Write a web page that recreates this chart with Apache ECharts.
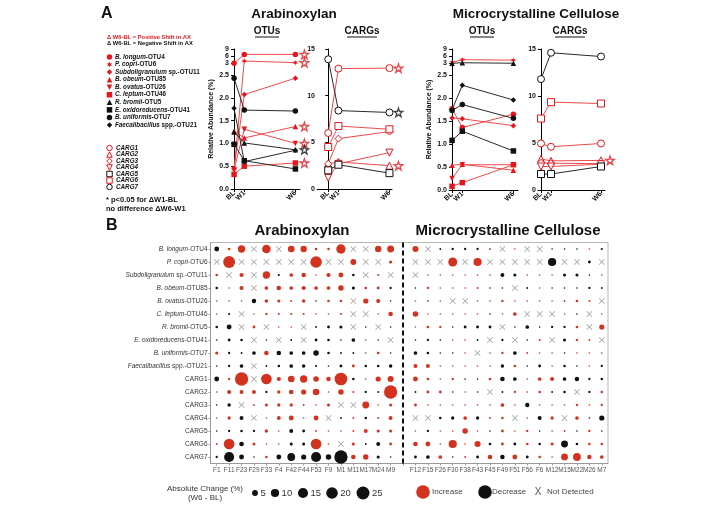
<!DOCTYPE html>
<html><head><meta charset="utf-8">
<script src="https://cdn.jsdelivr.net/npm/echarts@6/dist/echarts.min.js"></script>
<style>html,body{margin:0;padding:0;background:#fff}#c{width:720px;height:505px}</style>
</head><body><div id="c"></div>
<script>
// ---------------- DATA ----------------
const timepoints = ['BL', 'W1', 'W6'];
const weeks = [0, 1, 6];
const otuItalic = ['B. longum', 'P. copri', 'Subdoligranulum', 'B. obeum', 'B. ovatus', 'C. leptum', 'R. bromii', 'E. oxidoreducens', 'B. uniformis', 'Faecalibacillus'];
const otuSuffix = ['-OTU4', '-OTU6', ' sp.-OTU11', '-OTU85', '-OTU26', '-OTU46', '-OTU5', '-OTU41', '-OTU7', ' spp.-OTU21'];
const otuShift = ['pos', 'pos', 'pos', 'pos', 'pos', 'pos', 'neg', 'neg', 'neg', 'neg'];
const cargNames = ['CARG1', 'CARG2', 'CARG3', 'CARG4', 'CARG5', 'CARG6', 'CARG7'];
const cargShift = ['pos', 'pos', 'pos', 'pos', 'neg', 'pos', 'neg'];
const otuTickValues = [0, 0.5, 1, 1.5, 2, 2.5, 3, 6, 9];
const cargTickValues = [0, 5, 10, 15];

// Arabinoxylan OTUs (relative abundance %)
const axOtuBL = [3.0, 0.43, 0.45, 1.27, 0.43, 0.32, 1.25, 0.98, 2.43, 1.77];
const axOtuW1 = [6.7, 3.9, 2.07, 1.12, 1.31, 0.50, 1.01, 0.62, 1.73, 0.60];
const axOtuW6 = [6.7, 3.2, 2.43, 1.37, 1.00, 0.57, 0.86, 0.44, 1.71, 0.85];
const axOtuSig = [1, 1, 0, 1, 1, 1, 1, 0, 0, 0];
// Arabinoxylan CARGs
const axCargBL = [6.0, 2.7, 2.7, 1.2, 2.0, 4.5, 13.9];
const axCargW1 = [12.9, 2.9, 5.4, 2.7, 2.6, 6.75, 8.4];
const axCargW6 = [12.95, 2.5, 6.15, 3.9, 1.7, 6.4, 8.2];
const axCargSig = [1, 1, 0, 0, 0, 0, 1];
// Microcrystalline cellulose OTUs
const mccOtuBL = [1.77, 3.3, 1.57, 0.54, 0.25, 0.08, 3.0, 1.08, 1.73, 1.75];
const mccOtuW1 = [1.36, 4.5, 1.55, 0.56, 0.55, 0.16, 3.2, 1.28, 1.86, 2.28];
const mccOtuW6 = [1.65, 4.3, 1.40, 0.43, 0.55, 0.55, 3.0, 0.85, 1.56, 1.96];
const mccOtuSig = [0, 0, 0, 0, 0, 0, 0, 0, 0, 0];
// Microcrystalline cellulose CARGs
const mccCargBL = [4.95, 3.3, 2.9, 2.5, 1.7, 7.6, 11.8];
const mccCargW1 = [4.6, 3.1, 2.85, 2.5, 1.7, 9.35, 14.6];
const mccCargW6 = [4.95, 3.15, 2.8, 2.75, 2.5, 9.2, 14.2];
const mccCargSig = [0, 1, 0, 0, 0, 0, 0];

// Panel B: absolute change W6-BL (positive = increase, negative = decrease, null = not detected)
const axSamples = ['F1', 'F11', 'F23', 'F29', 'F33', 'F4', 'F42', 'F44', 'F53', 'F9', 'M1', 'M11', 'M17', 'M24', 'M9'];
const mccSamples = ['F12', 'F15', 'F26', 'F30', 'F38', 'F43', 'F45', 'F49', 'F51', 'F56', 'F6', 'M12', 'M15', 'M22', 'M26', 'M7'];
const rowItalic = ['B. longum', 'P. copri', 'Subdoligranulum', 'B. obeum', 'B. ovatus', 'C. leptum', 'R. bromii', 'E. oxidoreducens', 'B. uniformis', 'Faecalibacillus', '', '', '', '', '', '', ''];
const rowSuffix = ['-OTU4', '-OTU6', ' sp.-OTU11', '-OTU85', '-OTU26', '-OTU46', '-OTU5', '-OTU41', '-OTU7', ' spp.-OTU21', 'CARG1', 'CARG2', 'CARG3', 'CARG4', 'CARG5', 'CARG6', 'CARG7'];

const chgLongum = [-3.5, 1, 8, null, 11, null, 6.5, 6, 1, 1, 13, null, null, 6, 7,
  5.5, null, -0.5, -0.8, -0.8, -0.8, 0.5, null, 0.2, null, null, -0.2, -0.3, -0.2, 0.1, -0.7];
const chgCopri = [null, 21, null, null, null, null, null, null, 20, null, null, 5, null, null, 1.5,
  null, null, null, 12, null, 10, null, null, null, null, null, -10, null, null, -1.2, null];
const chgSubdol = [1, null, 2.5, null, 8, -0.7, 2, 3, 0.2, 2.5, 3.5, -1, null, 0.6, null,
  null, 0.4, 0.1, 0.2, 0.2, 0.4, 0.2, -2.3, -1.4, 0.4, 0.2, 0.2, -1.4, -1.4, -0.2, 0.2];
const chgObeum = [-1, 0.1, 2.5, null, 2, 3, 2, 2.5, 2, 2, 4.5, -1.5, 1, 1.2, -0.8,
  -0.4, 0.8, 0.1, 0.1, 0.05, 0.5, -0.1, -0.1, null, -0.5, 0.1, -0.1, -0.4, -0.1, -0.8, -0.5];
const chgOvatus = [0.4, 0.1, 0.4, -3, 1.8, 1.5, 0.5, 1.8, -0.3, 1, 1, null, 4, 2.5, -0.3,
  0.4, -0.4, 0.1, null, null, 0.1, 0.1, 0.9, 0.2, 0.1, 0.1, 0.1, 0.5, 1, 0.5, null];
const chgLeptum = [0.1, -0.7, null, 0.1, 0.8, 0.6, 0.6, 0.6, 0.4, 0.4, 0.6, null, null, 0.1, 3,
  4.5, 0.1, 0.1, 0.1, 0.1, 0.1, -0.4, 0.1, 2, null, null, null, 0.1, -0.1, null, 0.1];
const chgBromii = [-1, -3.5, null, 1.2, null, 0.1, 0.1, null, -0.5, -1.2, -1.5, null, -0.4, null, -0.4,
  0.1, 1, 0.8, -0.4, -1.2, -1.2, -1.2, null, -0.1, -2, -0.4, -0.8, -0.8, 1, null, 4];
const chgOxido = [-0.4, -1.2, -1, null, -0.2, null, -0.5, null, -1.2, -1, -0.2, -2, 0.4, -0.2, null,
  -0.1, -0.8, -0.4, 0.4, 0.4, -0.5, null, -0.8, null, -0.1, 0.5, null, -1.4, 0.8, 0.5, null];
const chgUniformis = [1.5, -0.8, -0.5, -2, 3, -3, -2, -2, -4.5, -1, -0.5, -0.5, 0.4, 1, -0.4,
  -2, -1, -0.2, -0.1, 0.4, null, 0.4, 0.8, -2, 0.5, 0.1, 0.2, -0.1, 0.4, 0.2, 0.4];
const chgFaecali = [-0.1, -0.8, -2, null, -0.5, -1, -2, -1.8, -0.7, -0.1, -1.2, 1.2, -1, -1, -1.8,
  2.3, 2.3, 0.1, 0.2, 0.2, 0.05, 0.4, -1.7, 1, -0.4, -1.2, 0.4, -1, -0.2, 0.4, -0.8];
const chgCarg1 = [-3.5, 0.8, 26, null, 17, 2.5, 6.5, 8, 4.5, 3, 24, -1, 0.4, 4, 5.5,
  3.5, 1, 0.4, 0.8, -0.4, -0.4, 1, -3.2, -2, 0.1, 2, 2.3, -2, -3, -0.8, -1];
const chgCarg2 = [0.4, 2.5, 2.3, 2.3, -0.8, 1.7, 3.2, 4, 6.5, 0.1, 4.5, 0.5, -0.8, -0.5, 26,
  -0.5, 1.2, 1.2, -0.4, 0.1, -0.4, null, -0.5, 0.8, 0.1, 1, -0.5, -1, null, -0.8, 1];
const chgCarg3 = [-0.1, -1.8, null, 0.5, 1.4, 1.6, 1.6, 0.5, 0.4, 1.4, null, null, 7, 0.4, 1.4,
  1.2, 0.1, 0.4, 0.4, 0.4, 0.3, 0.3, 2, 0.1, -2.8, 0.1, 0.4, 0.4, 0.8, 0.4, 0.8];
const chgCarg4 = [0.1, 1.6, -2.3, null, 0.2, 2.3, 3.5, 0.1, 3.5, null, -0.5, 0.5, -1, 0.5, 2.3,
  null, null, -1, -1.6, 2, -1.6, 0.5, 1, null, 0.1, -2.3, 1.6, null, 2, -0.4, -4];
const chgCarg5 = [-0.1, -0.8, -1, -0.8, 1.6, 0.1, -2.3, -1.2, 0.5, 0.4, 0.4, 0.5, 2.3, 1.4, 1.4,
  0.1, -0.8, 0.1, 0.4, 4.5, 0.2, -0.4, 1.2, 0.1, 0.8, -0.4, 0.4, 0.5, -0.4, 0.8, -0.4];
const chgCarg6 = [0.5, 17, -3.2, 1.4, 0.1, 0.1, -1.4, -1.4, 17, 0.2, null, 1.4, -0.5, -2.3, 1.2,
  3.2, 3.5, 0.4, 10, 0.4, 5.5, -1, 1.2, -1.2, 1, -1, 1.4, -7, -1, 1, 1];
const chgCarg7 = [-0.8, -15, -3.5, -0.3, 1, -3.5, -9, -4, -15, -4.5, -26, 3.2, 4.5, -1.5, -0.4,
  -1.2, -2, 2, -0.1, 0.5, -1.2, 3, -3, 3.5, -1.2, 1, 0.1, 7, 9, 3, 2];
const sizeLegendValues = [5, 10, 15, 20, 25];

// ---------------- STYLE / HELPERS ----------------
const FONT = '"Liberation Sans", Arial, Helvetica, sans-serif';
const RED = '#e8161c', RED_LINE = '#ef4a4c', BLK = '#111', BLK_LINE = '#2a2a2a';
const BUB_RED = '#d3321f', BUB_BLK = '#111', ND_GREY = '#8a8a8a';
const SYM = {
  circle: 'circle', rect: 'rect', triangle: 'triangle', diamond: 'diamond',
  triDown: 'path://M0,0 L10,0 L5,9 Z',
  star6: 'path://M5,0 L6,3.3 L9.3,2.5 L7,5 L9.3,7.5 L6,6.7 L5,10 L4,6.7 L0.7,7.5 L3,5 L0.7,2.5 L4,3.3 Z'
};
const STAR = 'path://M50,0 L61.8,35.5 L99,35.5 L69,57.6 L80.3,93 L50,71.2 L19.7,93 L31,57.6 L1,35.5 L38.2,35.5 Z';
const XMARK = 'path://M0,1 L1,0 L5,4 L9,0 L10,1 L6,5 L10,9 L9,10 L5,6 L1,10 L0,9 L4,5 Z';
const otuKinds = ['circle', 'star6', 'diamond', 'triangle', 'triDown', 'rect', 'triangle', 'rect', 'circle', 'diamond'];
const cargKinds = ['circle', 'triangle', 'diamond', 'triDown', 'rect', 'rect', 'circle'];

function brk(v) { return v <= 2.5 ? v : 2.76 + (v - 3) * 0.31 / 6; }
function unbrk(d) { return d <= 2.5 + 1e-9 ? d : 3 + (d - 2.76) * 6 / 0.31; }
function ident(v) { return v; }
function sz(v) { return Math.max(1.6, 2.6 * Math.sqrt(v)); }

function lineSeries(k, bl, w1, w6, names, shifts, kinds, open, tf, sig) {
  const out = [];
  names.forEach((nm, i) => {
    const vals = [bl[i], w1[i], w6[i]];
    const red = shifts[i] === 'pos';
    const mc = red ? RED : BLK;
    out.push({
      type: 'line', xAxisIndex: k, yAxisIndex: k, name: nm,
      data: weeks.map((w, t) => [w, tf(vals[t])]),
      symbol: SYM[kinds[i]], symbolSize: open ? 7 : 5.5,
      lineStyle: { color: red ? RED_LINE : BLK_LINE, width: 1 },
      itemStyle: open ? { color: '#fff', borderColor: mc, borderWidth: 1 } : { color: mc, borderWidth: 0 },
      z: red ? 3 : 4, animation: false, silent: true
    });
    if (sig[i]) out.push({
      type: 'scatter', xAxisIndex: k, yAxisIndex: k,
      data: [[weeks[2], tf(vals[2])]],
      symbol: STAR, symbolSize: 8.5, symbolOffset: [9, 0],
      itemStyle: { color: '#fff', borderColor: mc, borderWidth: 1.3 },
      z: 5, animation: false, silent: true
    });
  });
  return out;
}

const otuTicks = otuTickValues.map(brk);
function xAxisA(k, min, max) {
  return {
    type: 'value', gridIndex: k, min: min, max: max,
    axisLine: { show: true, onZero: false, lineStyle: { color: '#000', width: 1 } },
    axisTick: { show: true, length: 3, customValues: weeks, lineStyle: { color: '#000' } },
    axisLabel: { customValues: weeks, formatter: v => timepoints[weeks.indexOf(v)] || '', rotate: 45,
      fontSize: 7, fontWeight: 'bold', color: '#111', margin: 3, fontFamily: FONT },
    splitLine: { show: false }
  };
}
function yAxisOtu(k) {
  return {
    type: 'value', gridIndex: k, min: 0, max: brk(9),
    axisLine: { show: true, lineStyle: { color: '#000', width: 1 } },
    axisTick: { show: true, length: 3, customValues: otuTicks, lineStyle: { color: '#000' } },
    axisLabel: { customValues: otuTicks,
      formatter: v => v <= 2.5 + 1e-6 ? v.toFixed(1) : String(Math.round(unbrk(v))),
      fontSize: 7, fontWeight: 'bold', color: '#111', margin: 2, fontFamily: FONT },
    splitLine: { show: false },
    name: 'Relative Abundance (%)', nameLocation: 'middle', nameGap: 16,
    nameTextStyle: { fontSize: 7, fontWeight: 'bold', color: '#111', fontFamily: FONT }
  };
}
function yAxisCarg(k) {
  return {
    type: 'value', gridIndex: k, min: 0, max: 15,
    axisLine: { show: true, lineStyle: { color: '#000', width: 1 } },
    axisTick: { show: true, length: 3, customValues: cargTickValues, lineStyle: { color: '#000' } },
    axisLabel: { customValues: cargTickValues, fontSize: 7, fontWeight: 'bold', color: '#111', margin: 2, fontFamily: FONT },
    splitLine: { show: false }
  };
}

// ---------- Panel B data ----------
const bubbleRows = [chgLongum, chgCopri, chgSubdol, chgObeum, chgOvatus, chgLeptum, chgBromii, chgOxido, chgUniformis, chgFaecali,
  chgCarg1, chgCarg2, chgCarg3, chgCarg4, chgCarg5, chgCarg6, chgCarg7];
const sampleCats = axSamples.concat([' '], mccSamples);
const rowNames = rowItalic.map((it, i) => it + rowSuffix[i]);
const incData = [], decData = [], ndData = [];
bubbleRows.forEach((row, r) => row.forEach((v, i) => {
  const x = i < axSamples.length ? i : i + 1;
  if (v === null) ndData.push([x, r]);
  else if (v > 0) incData.push([x, r, v]);
  else decData.push([x, r, -v]);
}));

// ---------- Graphic (titles / legends) ----------
function txt(x, y, text, font, fill, align, rich) {
  const st = { text: text, font: font, fill: fill || '#111', align: align || 'left', verticalAlign: 'middle' };
  if (rich) st.rich = rich;
  return { type: 'text', x: x, y: y, style: st, silent: true };
}
function shapeEl(kind, cx, cy, s, fill, stroke) {
  const h = s / 2;
  const style = { fill: fill, stroke: stroke || null, lineWidth: stroke ? 1 : 0 };
  let el;
  if (kind === 'circle') el = { type: 'circle', shape: { cx: cx, cy: cy, r: h } };
  else if (kind === 'rect') el = { type: 'rect', shape: { x: cx - h, y: cy - h, width: s, height: s } };
  else if (kind === 'triangle') el = { type: 'polygon', shape: { points: [[cx, cy - h], [cx + h, cy + h], [cx - h, cy + h]] } };
  else if (kind === 'triDown') el = { type: 'polygon', shape: { points: [[cx - h, cy - h], [cx + h, cy - h], [cx, cy + h]] } };
  else if (kind === 'diamond') el = { type: 'polygon', shape: { points: [[cx, cy - h], [cx + h, cy], [cx, cy + h], [cx - h, cy]] } };
  else {
    const pts = [];
    for (let j = 0; j < 12; j++) { const a = -Math.PI / 2 + j * Math.PI / 6; const r = j % 2 ? h * 0.5 : h; pts.push([cx + r * Math.cos(a), cy + r * Math.sin(a)]); }
    el = { type: 'polygon', shape: { points: pts } };
  }
  el.style = style; el.silent = true;
  return el;
}

const graphics = [];
const B = (px) => 'bold ' + px + 'px ' + FONT;
const N = (px) => px + 'px ' + FONT;
// Panel A headings
graphics.push(txt(101, 14, 'A', B(16), '#111'));
graphics.push(txt(294, 14, 'Arabinoxylan', B(13.5), '#111', 'center'));
graphics.push(txt(536, 14, 'Microcrystalline Cellulose', B(13.5), '#111', 'center'));
[[267, 'OTUs', 24], [362, 'CARGs', 30], [482, 'OTUs', 24], [570, 'CARGs', 30]].forEach(s => {
  graphics.push(txt(s[0], 31, s[1], B(10), '#111', 'center'));
  graphics.push({ type: 'line', shape: { x1: s[0] - s[2] / 2, y1: 37, x2: s[0] + s[2] / 2, y2: 37 }, style: { stroke: '#111', lineWidth: 1 }, silent: true });
});
// Panel A legend
graphics.push(txt(107, 37, '\u0394 W6-BL = Positive Shift in AX', B(5.8), RED));
graphics.push(txt(107, 43, '\u0394 W6-BL = Negative Shift in AX', B(5.8), '#111'));
const legRich = { i: { fontStyle: 'italic', fontWeight: 'bold', fontSize: 6.3, fontFamily: FONT, fill: '#111' }, n: { fontWeight: 'bold', fontSize: 6.3, fontFamily: FONT, fill: '#111' } };
otuItalic.forEach((it, i) => {
  const y = 57 + i * 7.55;
  const c = otuShift[i] === 'pos' ? RED : BLK;
  graphics.push(shapeEl(otuKinds[i], 109.5, y, 5.5, c));
  graphics.push(txt(115, y, '{i|' + it + '}{n|' + otuSuffix[i] + '}', B(6.3), '#111', 'left', legRich));
});
cargNames.forEach((nm, i) => {
  const y = 148 + i * 6.5;
  const c = cargShift[i] === 'pos' ? RED : BLK;
  graphics.push(shapeEl(cargKinds[i], 109.5, y, 5.5, '#fff', c));
  graphics.push(txt(116, y, '{i|' + nm + '}', B(6.3), '#111', 'left', legRich));
});
graphics.push(txt(106, 200, '* p<0.05 for \u0394W1-BL', B(7.5), '#111', 'left',
  { i: { fontStyle: 'italic', fontWeight: 'bold', fontSize: 7.5, fontFamily: FONT, fill: '#111' } }));
graphics.push(txt(106, 208.5, 'no difference \u0394W6-W1', B(7.5), '#111'));
// Panel B headings
graphics.push(txt(106, 226, 'B', B(16), '#111'));
graphics.push(txt(302, 231, 'Arabinoxylan', B(15), '#111', 'center'));
graphics.push(txt(508, 231, 'Microcrystalline Cellulose', B(15), '#111', 'center'));
// Panel B legend
graphics.push(txt(205, 489, 'Absolute Change (%)', N(8), '#333', 'center'));
graphics.push(txt(205, 498, '(W6 - BL)', N(8), '#333', 'center'));
const sizeLegX = [255, 275, 303, 332, 363];
sizeLegendValues.forEach((v, i) => {
  const r = sz(v) / 2;
  graphics.push({ type: 'circle', shape: { cx: sizeLegX[i], cy: 493, r: r }, style: { fill: BUB_BLK }, silent: true });
  graphics.push(txt(sizeLegX[i] + r + 2.5, 493.5, String(v), N(9.5), '#333'));
});
graphics.push({ type: 'circle', shape: { cx: 423, cy: 492, r: 6.8 }, style: { fill: BUB_RED }, silent: true });
graphics.push(txt(432, 492, 'Increase', N(8), '#444'));
graphics.push({ type: 'circle', shape: { cx: 485, cy: 492, r: 6.8 }, style: { fill: BUB_BLK }, silent: true });
graphics.push(txt(492, 492, 'Decrease', N(8), '#444'));
graphics.push(txt(538, 492, 'X', N(10), '#555', 'center'));
graphics.push(txt(547, 492, 'Not Detected', N(8), '#444'));

// ---------------- OPTION ----------------
const rowRich = {
  it: { fontStyle: 'italic', fontSize: 6.5, color: '#333', fontFamily: FONT },
  n: { fontSize: 6.5, color: '#333', fontFamily: FONT }
};
const option = {
  backgroundColor: '#fff',
  animation: false,
  textStyle: { fontFamily: FONT },
  grid: [
    { left: 231, top: 49, width: 69, height: 140 },
    { left: 317, top: 49, width: 75, height: 140 },
    { left: 449, top: 49, width: 69, height: 141 },
    { left: 538, top: 49, width: 67, height: 141 },
    { left: 210.5, top: 242.5, width: 397.5, height: 221, show: true, borderColor: '#b5b5b5', borderWidth: 1, backgroundColor: 'transparent' }
  ],
  xAxis: [
    xAxisA(0, -0.3, 6.45),
    xAxisA(1, -1.1, 6.25),
    xAxisA(2, -0.3, 6.45),
    xAxisA(3, -0.3, 6.4),
    {
      type: 'category', gridIndex: 4, data: sampleCats,
      axisLine: { show: true, lineStyle: { color: '#999' } },
      axisTick: { show: true, alignWithLabel: true, interval: 0, length: 2, lineStyle: { color: '#999' } },
      axisLabel: { interval: 0, fontSize: 6.5, color: '#555', margin: 3, fontFamily: FONT },
      splitLine: { show: false }
    }
  ],
  yAxis: [
    yAxisOtu(0), yAxisCarg(1), yAxisOtu(2), yAxisCarg(3),
    {
      type: 'category', gridIndex: 4, data: rowNames, inverse: true,
      axisLine: { show: true, lineStyle: { color: '#999' } },
      axisTick: { show: true, alignWithLabel: true, interval: 0, length: 2, lineStyle: { color: '#999' } },
      axisLabel: {
        interval: 0, margin: 3, fontSize: 6.5, color: '#333',
        formatter: (val, idx) => rowItalic[idx] ? '{it|' + rowItalic[idx] + '}{n|' + rowSuffix[idx] + '}' : '{n|' + rowSuffix[idx] + '}',
        rich: rowRich
      },
      splitLine: { show: false }
    }
  ],
  graphic: graphics,
  series: [].concat(
    lineSeries(0, axOtuBL, axOtuW1, axOtuW6, otuItalic, otuShift, otuKinds, false, brk, axOtuSig),
    lineSeries(1, axCargBL, axCargW1, axCargW6, cargNames, cargShift, cargKinds, true, ident, axCargSig),
    lineSeries(2, mccOtuBL, mccOtuW1, mccOtuW6, otuItalic, otuShift, otuKinds, false, brk, mccOtuSig),
    lineSeries(3, mccCargBL, mccCargW1, mccCargW6, cargNames, cargShift, cargKinds, true, ident, mccCargSig),
    [
      {
        type: 'scatter', name: 'Increase', xAxisIndex: 4, yAxisIndex: 4, data: incData,
        symbolSize: d => sz(d[2]), itemStyle: { color: BUB_RED, opacity: 1 }, silent: true,
        markLine: {
          silent: true, symbol: 'none', label: { show: false },
          lineStyle: { type: [5, 3], color: '#111', width: 2 },
          data: [{ xAxis: axSamples.length }]
        }
      },
      { type: 'scatter', name: 'Decrease', xAxisIndex: 4, yAxisIndex: 4, data: decData,
        symbolSize: d => sz(d[2]), itemStyle: { color: BUB_BLK, opacity: 1 }, silent: true },
      { type: 'scatter', name: 'Not Detected', xAxisIndex: 4, yAxisIndex: 4, data: ndData,
        symbol: XMARK, symbolSize: 6, itemStyle: { color: ND_GREY }, silent: true }
    ]
  )
};
const chart = echarts.init(document.getElementById('c'), null, { renderer: 'canvas' });
chart.setOption(option);
</script></body></html>
